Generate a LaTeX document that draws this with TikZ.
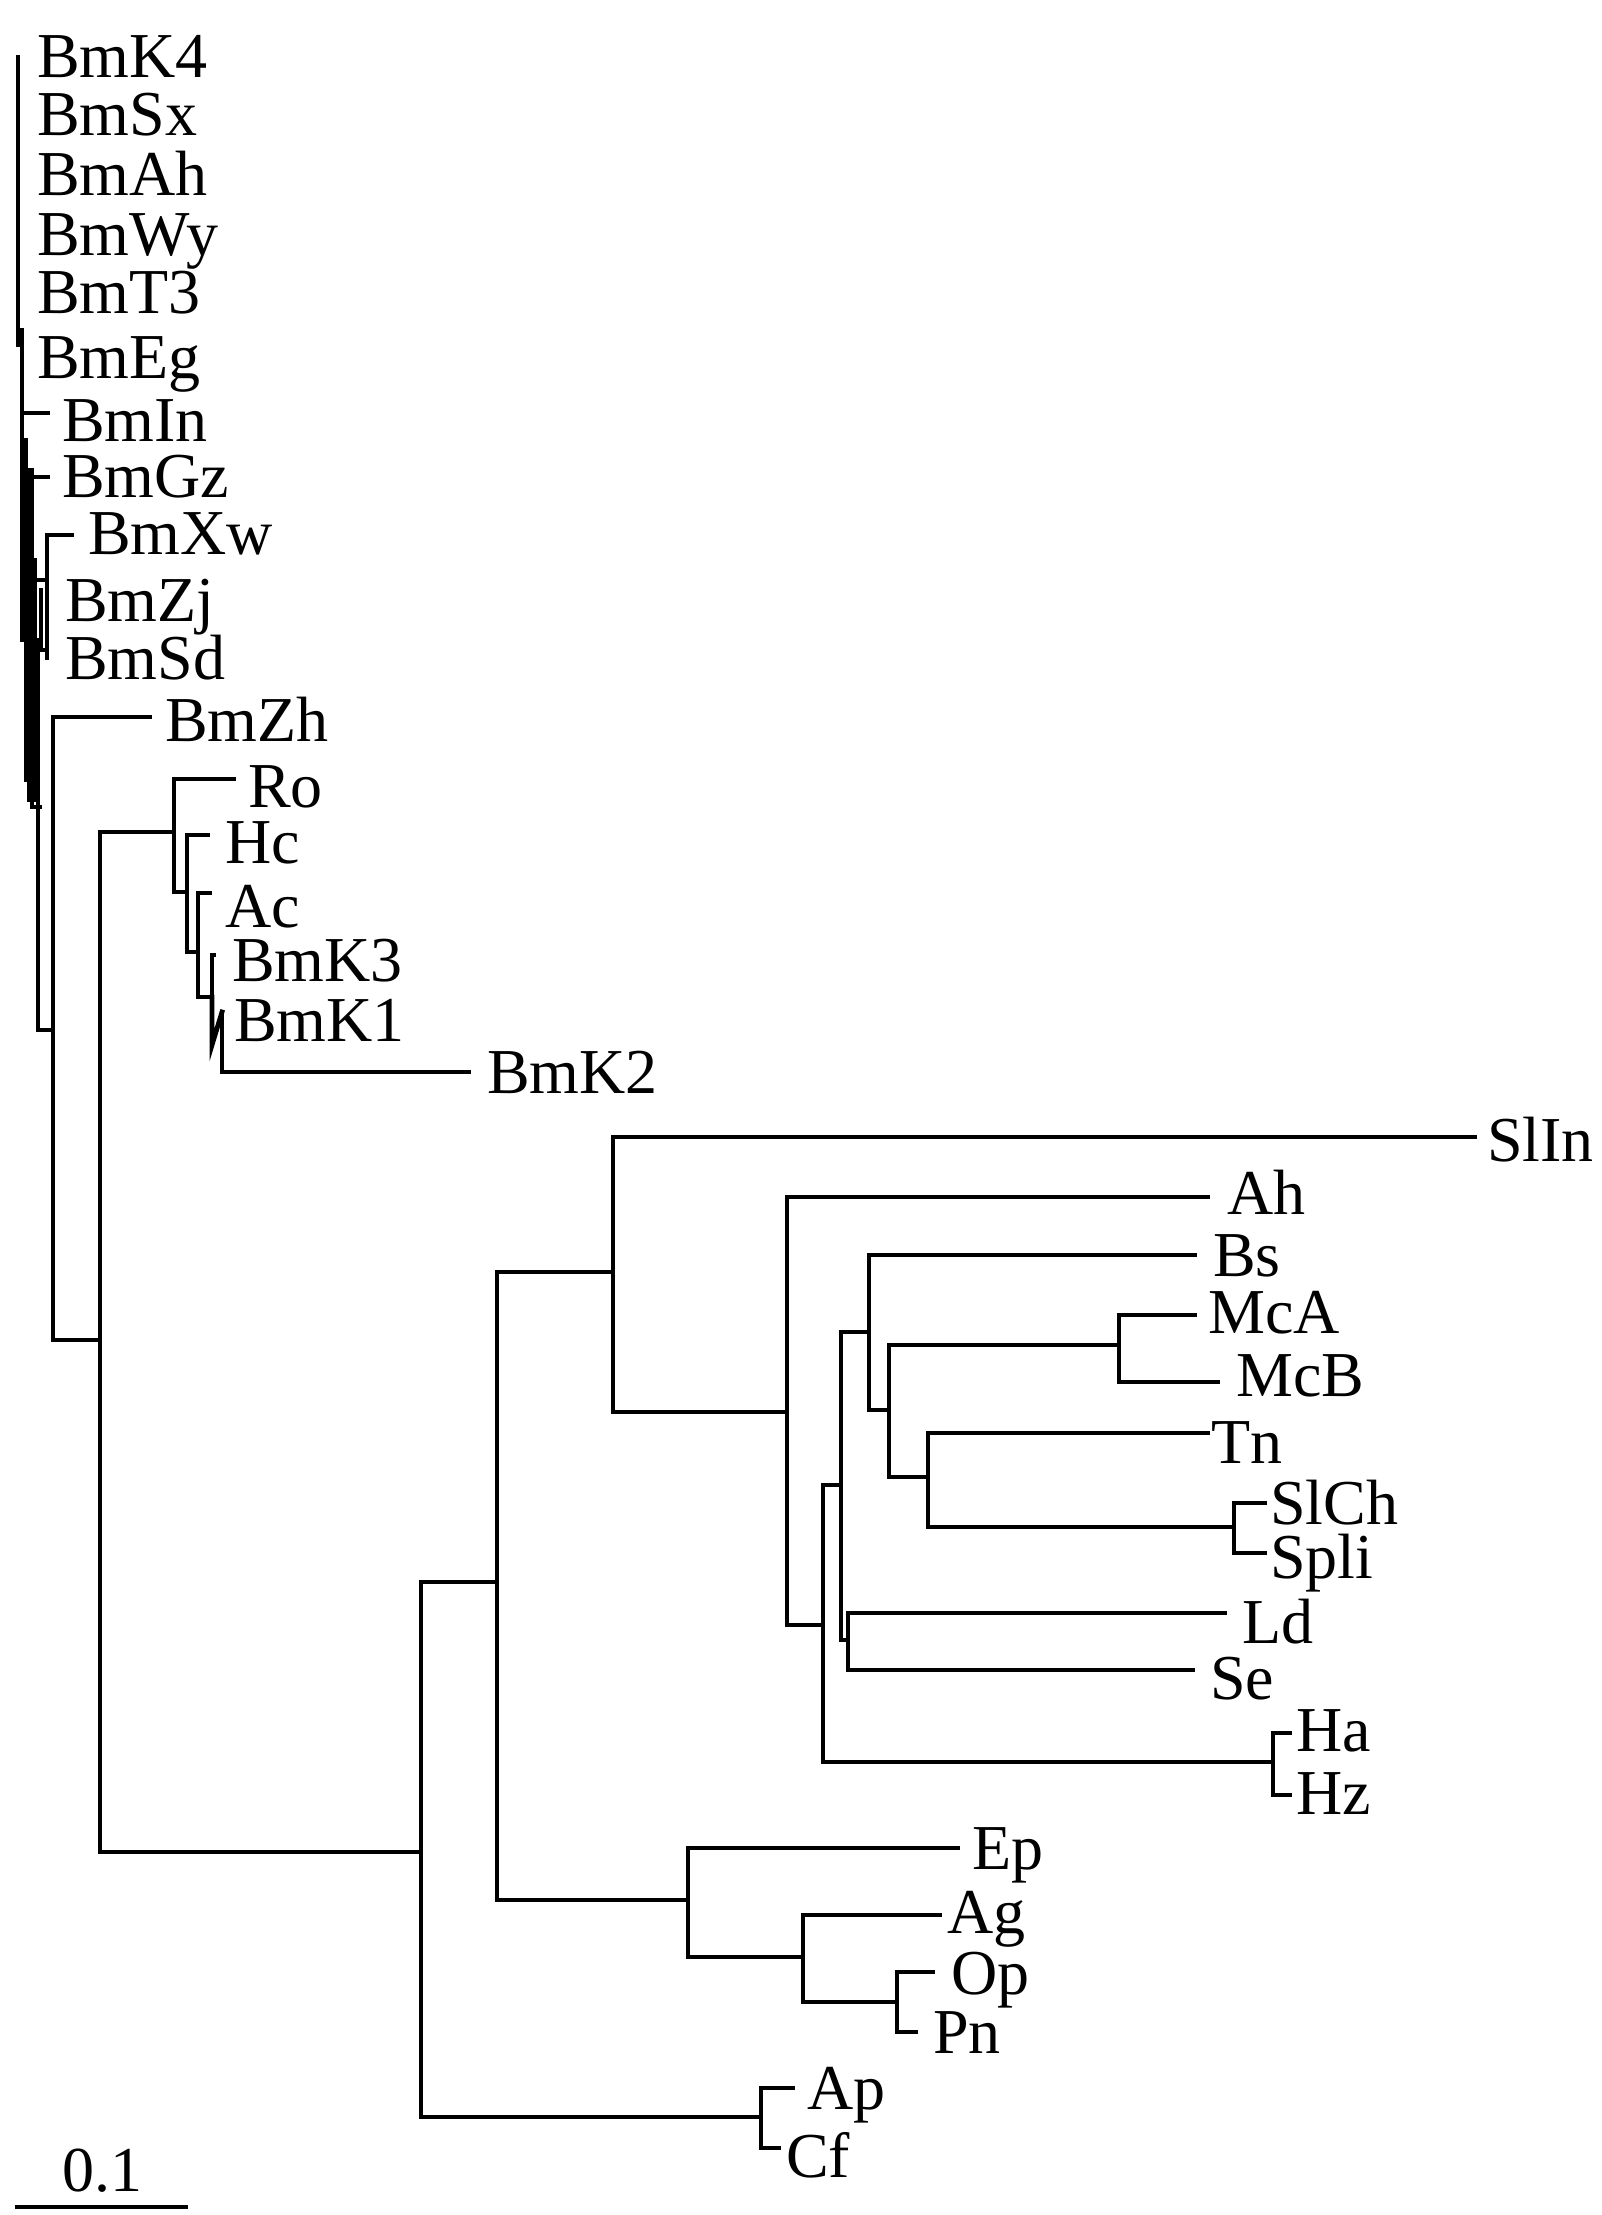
\documentclass[tikz,border=0pt]{standalone}
\usepackage{fontspec}
\setmainfont{Liberation Serif}
\begin{document}
\begin{tikzpicture}[x=1pt,y=-1pt,
  br/.style={line width=4.8pt, line cap=rect},
  lab/.style={anchor=west, inner sep=0pt, text height=42pt, text depth=0pt, font=\fontsize{64}{64}\selectfont}]
\useasboundingbox (0,0) rectangle (1602,2215);
% ---------- labels ----------
\node[lab] (BmK4) at (37,57) {BmK4};
\node[lab] (BmSx) at (37,115) {BmSx};
\node[lab] (BmAh) at (37,175) {BmAh};
\node[lab] (BmWy) at (37,235) {BmWy};
\node[lab] (BmT3) at (37,293) {BmT3};
\node[lab] (BmEg) at (37,357) {BmEg};
\node[lab] (BmIn) at (62,420) {BmIn};
\node[lab] (BmGz) at (62,476) {BmGz};
\node[lab] (BmXw) at (88,533) {BmXw};
\node[lab] (BmZj) at (65,600) {BmZj};
\node[lab] (BmSd) at (65,658) {BmSd};
\node[lab] (BmZh) at (165,720) {BmZh};
\node[lab] (Ro) at (248,786) {Ro};
\node[lab] (Hc) at (225,842) {Hc};
\node[lab] (Ac) at (225,906) {Ac};
\node[lab] (BmK3) at (232,960) {BmK3};
\node[lab] (BmK1) at (234,1020) {BmK1};
\node[lab] (BmK2) at (487,1072) {BmK2};
\node[lab] (SlIn) at (1487,1140) {SlIn};
\node[lab] (Ah) at (1227,1193) {Ah};
\node[lab] (Bs) at (1213,1255) {Bs};
\node[lab] (McA) at (1208,1312) {McA};
\node[lab] (McB) at (1236,1375) {McB};
\node[lab] (Tn) at (1211,1442) {Tn};
\node[lab] (SlCh) at (1270,1503) {SlCh};
\node[lab] (Spli) at (1270,1557) {Spli};
\node[lab] (Ld) at (1242,1622) {Ld};
\node[lab] (Se) at (1210,1678) {Se};
\node[lab] (Ha) at (1296,1730) {Ha};
\node[lab] (Hz) at (1296,1793) {Hz};
\node[lab] (Ep) at (972,1848) {Ep};
\node[lab] (Ag) at (947,1912) {Ag};
\node[lab] (Op) at (951,1973) {Op};
\node[lab] (Pn) at (933,2032) {Pn};
\node[lab] (Ap) at (807,2088) {Ap};
\node[lab] (Cf) at (786,2156) {Cf};
\node[lab, anchor=center] (scl) at (102,2170) {0.1};
% ---------- internal nodes ----------
\coordinate (c38) at (38,1030);
\coordinate (c53) at (53,1030);
\coordinate (c100) at (100,1340);
\coordinate (c174) at (174,832);
\coordinate (c187) at (187,892);
\coordinate (c198) at (198,952);
\coordinate (c212) at (212,997);
\coordinate (c212b) at (212,1045);
\coordinate (c222) at (222,1012);
\coordinate (c421) at (421,1852);
\coordinate (c497) at (497,1582);
\coordinate (c613) at (613,1272);
\coordinate (c787) at (787,1412);
\coordinate (c823) at (823,1625);
\coordinate (c841) at (841,1485);
\coordinate (c848) at (848,1640);
\coordinate (c869) at (869,1332);
\coordinate (c889) at (889,1410);
\coordinate (c1119) at (1119,1345);
\coordinate (c928) at (928,1477);
\coordinate (c1234) at (1234,1527);
\coordinate (c1273) at (1273,1762);
\coordinate (c688) at (688,1900);
\coordinate (c803) at (803,1957);
\coordinate (c897) at (897,2002);
\coordinate (c761) at (761,2117);
% ---------- tips ----------
\coordinate (tBmZh) at (150,717);
\coordinate (tRo) at (234,779);
\coordinate (tHc) at (208,835);
\coordinate (tAc) at (210,893);
\coordinate (tBmK3) at (214,955);
\coordinate (tBmK2) at (469,1072);
\coordinate (tSlIn) at (1475,1137);
\coordinate (tAh) at (1208,1197);
\coordinate (tBs) at (1195,1255);
\coordinate (tMcA) at (1195,1315);
\coordinate (tMcB) at (1218,1382);
\coordinate (tTn) at (1208,1433);
\coordinate (tSlCh) at (1265,1503);
\coordinate (tSpli) at (1265,1553);
\coordinate (tLd) at (1225,1613);
\coordinate (tSe) at (1193,1670);
\coordinate (tHa) at (1290,1733);
\coordinate (tHz) at (1290,1795);
\coordinate (tEp) at (958,1848);
\coordinate (tAg) at (940,1915);
\coordinate (tOp) at (933,1972);
\coordinate (tPn) at (916,2032);
\coordinate (tAp) at (793,2088);
\coordinate (tCf) at (779,2148);
% ---------- left ladder (near-zero branches) ----------
\draw[br] (18,57) -- (18,345);
\draw[br] (22,330) -- (22,640) -- (38,640);
\draw[br] (22,413) -- (48,413);
\draw[br] (26,440) -- (26,780);
\draw[br] (26,477) -- (48,477);
\draw[br] (29,470) -- (29,800);
\draw[br] (32,470) -- (32,807) -- (40,807);
\draw[br] (35,560) -- (35,800);
\draw[br] (35,580) -- (47,580);
\draw[br] (47,535) -- (47,658);
\draw[br] (47,535) -- (72,535);
\draw[br] (41,590) -- (41,650) -- (47,650);
\draw[br] (38,640) -- (c38);
% ---------- tree ----------
\draw[br] (c38) |- (c53);
\draw[br] (c53) |- (tBmZh);
\draw[br] (c53) |- (c100);
\draw[br] (c100) |- (c174);
\draw[br] (c100) |- (c421);
\draw[br] (c174) |- (tRo);
\draw[br] (c174) |- (c187);
\draw[br] (c187) |- (tHc);
\draw[br] (c187) |- (c198);
\draw[br] (c198) |- (tAc);
\draw[br] (c198) |- (c212);
\draw[br] (c212) |- (tBmK3);
\draw[br] (c212) -- (c212b) -- (c222);
\draw[br] (c222) |- (tBmK2);
\draw[br] (c421) |- (c497);
\draw[br] (c421) |- (c761);
\draw[br] (c497) |- (c613);
\draw[br] (c497) |- (c688);
\draw[br] (c613) |- (tSlIn);
\draw[br] (c613) |- (c787);
\draw[br] (c787) |- (tAh);
\draw[br] (c787) |- (c823);
\draw[br] (c823) |- (c841);
\draw[br] (c823) |- (c1273);
\draw[br] (c1273) |- (tHa);
\draw[br] (c1273) |- (tHz);
\draw[br] (c841) |- (c869);
\draw[br] (c841) |- (c848);
\draw[br] (c848) |- (tLd);
\draw[br] (c848) |- (tSe);
\draw[br] (c869) |- (tBs);
\draw[br] (c869) |- (c889);
\draw[br] (c889) |- (c1119);
\draw[br] (c889) |- (c928);
\draw[br] (c1119) |- (tMcA);
\draw[br] (c1119) |- (tMcB);
\draw[br] (c928) |- (tTn);
\draw[br] (c928) |- (c1234);
\draw[br] (c1234) |- (tSlCh);
\draw[br] (c1234) |- (tSpli);
\draw[br] (c688) |- (tEp);
\draw[br] (c688) |- (c803);
\draw[br] (c803) |- (tAg);
\draw[br] (c803) |- (c897);
\draw[br] (c897) |- (tOp);
\draw[br] (c897) |- (tPn);
\draw[br] (c761) |- (tAp);
\draw[br] (c761) |- (tCf);
% ---------- scale bar ----------
\coordinate (sb1) at (15,2207);
\coordinate (sb2) at (188,2207);
\draw[br, line cap=butt] (sb1) -- (sb2);
\end{tikzpicture}
\end{document}
